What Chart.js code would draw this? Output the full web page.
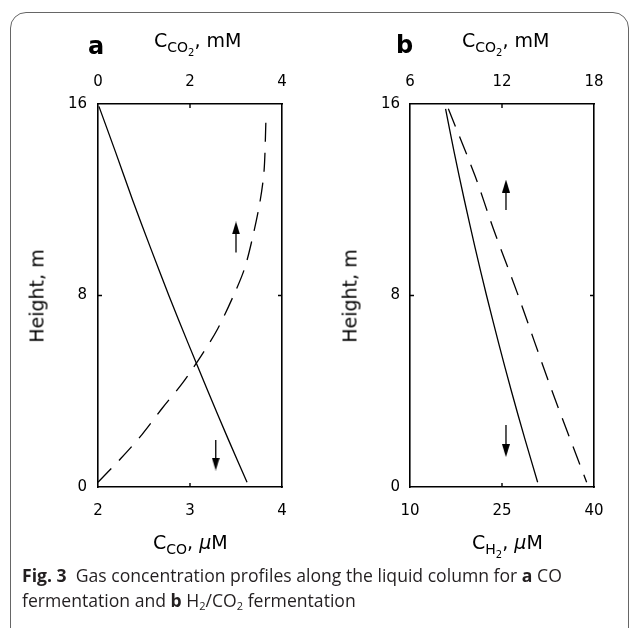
<!DOCTYPE html>
<html>
<head>
<meta charset="utf-8">
<script src="https://cdn.jsdelivr.net/npm/chart.js@4"></script>
<style>
  html, body { margin: 0; padding: 0; background: #fff; }
  body { width: 630px; height: 628px; position: relative; overflow: hidden; font-family: "DejaVu Sans", sans-serif; color: #000; }
  #frame { position: absolute; left: 10px; top: 12px; width: 619px; height: 640px; border: 1.4px solid #666; border-radius: 16px; box-sizing: border-box; }
  canvas { position: absolute; top: 0; }
  .t { position: absolute; font-size: 19px; line-height: 1; white-space: nowrap; }
  .s1 { font-size: 14px; position: relative; top: 5px; }
  .s2 { font-size: 10px; position: relative; top: 4px; }
  .panel { position: absolute; font-weight: bold; font-size: 24px; line-height: 1; }
  .rot { position: absolute; font-size: 19px; line-height: 1; white-space: nowrap; transform: translate(-50%, -50%) rotate(-90deg); }
  #caption { position: absolute; left: 22px; top: 563px; font-family: "Open Sans", sans-serif; font-size: 17.6px; line-height: 25px; color: #231f20; white-space: nowrap; }
  #caption sub { font-size: 11px; vertical-align: -3px; line-height: 0; }
</style>
</head>
<body>
<div id="frame"></div>
<canvas id="chartA" width="315" height="560" style="left:0"></canvas>
<canvas id="chartB" width="315" height="560" style="left:315px"></canvas>

<div class="panel" style="left:88px;top:34px">a</div>
<div class="panel" style="left:396px;top:33px">b</div>
<div class="t" style="left:154px;top:31px">C<span class="s1">CO<span class="s2">2</span></span>, mM</div>
<div class="t" style="left:462px;top:31px">C<span class="s1">CO<span class="s2">2</span></span>, mM</div>
<div class="t" style="left:153px;top:533px">C<span class="s1">CO</span>, <i>μ</i>M</div>
<div class="t" style="left:472px;top:533px">C<span class="s1">H<span class="s2">2</span></span>, <i>μ</i>M</div>
<div class="rot" style="left:37px;top:296px">Height, m</div>
<div class="rot" style="left:350px;top:296px">Height, m</div>

<div id="caption"><b>Fig. 3</b>&nbsp; Gas concentration profiles along the liquid column for <b>a</b> CO<br>fermentation and <b>b</b> H<sub>2</sub>/CO<sub>2</sub> fermentation</div>

<script>
// height axis (m), shared by both panels
const heightTicks = [0, 8, 16];

// panel a: CO fermentation
const coTicks = [2, 3, 4];            // C_CO, uM (bottom)
const co2TicksA = [0, 2, 4];          // C_CO2, mM (top)
const coHeight = [15.9, 14, 12, 10, 8, 6, 4, 2, 0.2];
const coConc   = [2.01, 2.19, 2.375, 2.57, 2.77, 2.98, 3.195, 3.415, 3.62];
const co2HeightA = [0.2, 1.2, 2.2, 3.3, 4.35, 5.5, 6.6, 8.1, 9.15, 10.5, 11.9, 13.2, 15.3];
const co2ConcA   = [0.0, 0.5, 0.96, 1.40, 1.84, 2.25, 2.60, 2.97, 3.19, 3.37, 3.52, 3.61, 3.65];
const arrowUpA   = [{ x: 3.0, y: 9.8 }, { x: 3.0, y: 10.82 }];    // on CO2 axis
const arrowDownA = [{ x: 3.28, y: 1.96 }, { x: 3.28, y: 0.96 }];  // on CO axis

// panel b: H2/CO2 fermentation
const h2Ticks = [10, 25, 40];         // C_H2, uM (bottom)
const co2TicksB = [6, 12, 18];        // C_CO2, mM (top)
const h2Height = [15.8, 14, 12, 10, 8, 6, 4, 2, 0.2];
const h2Conc   = [15.8, 17.19, 18.85, 20.61, 22.48, 24.46, 26.54, 28.74, 30.81];
const co2HeightB = [15.8, 13.0, 10.8, 8.1, 4.05, 0.2];
const co2ConcB   = [8.5, 10.24, 11.43, 13.0, 15.24, 17.52];
const arrowUpB   = [{ x: 12.26, y: 11.57 }, { x: 12.26, y: 12.57 }];
const arrowDownB = [{ x: 25.65, y: 2.59 }, { x: 25.65, y: 1.52 }];

const pts = (xs, ys) => xs.map((x, i) => ({ x, y: ys[i] }));

function arrowHead() {
  const c = document.createElement('canvas');
  c.width = 8; c.height = 13;
  const g = c.getContext('2d');
  g.fillStyle = '#000';
  g.beginPath(); g.moveTo(4, 0); g.lineTo(8, 13); g.lineTo(0, 13); g.closePath(); g.fill();
  return c;
}
const head = arrowHead();

// short inward ticks at the middle tick of each side
const innerTicks = {
  id: 'innerTicks',
  afterDraw(chart) {
    const { ctx, chartArea: a, scales } = chart;
    const len = 4;
    ctx.save();
    ctx.strokeStyle = '#000';
    ctx.lineWidth = 1.4;
    ctx.beginPath();
    const mid = s => s.ticks.filter(t => t.value > s.min && t.value < s.max);
    mid(scales.x).forEach(t => { const p = scales.x.getPixelForValue(t.value); ctx.moveTo(p, a.bottom); ctx.lineTo(p, a.bottom - len); });
    mid(scales.x2).forEach(t => { const p = scales.x2.getPixelForValue(t.value); ctx.moveTo(p, a.top); ctx.lineTo(p, a.top + len); });
    mid(scales.y).forEach(t => {
      const p = scales.y.getPixelForValue(t.value);
      ctx.moveTo(a.left, p); ctx.lineTo(a.left + len, p);
      ctx.moveTo(a.right, p); ctx.lineTo(a.right - len, p);
    });
    ctx.stroke();
    ctx.restore();
  }
};

const tickFont = { family: 'DejaVu Sans', size: 15 };
const border = { display: true, color: '#000', width: 1.6 };

function makePanel(id, cfg) {
  const line = (data, axis, dash) => ({
    data, xAxisID: axis, borderColor: '#000', borderWidth: 1.3,
    borderDash: dash ? [19, 11] : [], pointRadius: 0, tension: 0.3, fill: false
  });
  const arrow = (data, axis, rot) => ({
    data, xAxisID: axis, borderColor: '#000', backgroundColor: '#000', borderWidth: 1.3,
    pointStyle: head, pointRadius: [0, 4], pointRotation: rot, tension: 0
  });
  const ticksOf = vals => ({ ticks }) => { ticks.length = 0; vals.forEach(v => ticks.push({ value: v })); };
  return new Chart(document.getElementById(id), {
    type: 'line',
    data: {
      datasets: [
        line(cfg.solid, 'x', false),
        line(cfg.dashed, 'x2', true),
        arrow(cfg.up, cfg.upAxis, 0),
        arrow(cfg.down, cfg.downAxis, 180),
      ]
    },
    options: {
      responsive: false,
      animation: false,
      events: [],
      layout: { padding: 0 },
      plugins: { legend: { display: false }, tooltip: { enabled: false } },
      scales: {
        x: {
          type: 'linear', position: 'bottom', min: cfg.bottom[0], max: cfg.bottom[cfg.bottom.length - 1],
          afterBuildTicks: ticksOf(cfg.bottom),
          ticks: { font: tickFont, color: '#000', padding: 15, maxRotation: 0 },
          grid: { display: false, drawTicks: false }, border,
          afterFit: s => { s.height = 560 - 487; }
        },
        x2: {
          type: 'linear', position: 'top', min: cfg.top[0], max: cfg.top[cfg.top.length - 1],
          afterBuildTicks: ticksOf(cfg.top),
          ticks: { font: tickFont, color: '#000', padding: 13, maxRotation: 0 },
          grid: { display: false, drawTicks: false }, border,
          afterFit: s => { s.height = 104; }
        },
        y: {
          type: 'linear', position: 'left', min: 0, max: 16,
          afterBuildTicks: ticksOf(heightTicks),
          ticks: { font: tickFont, color: '#000', padding: cfg.yPad },
          grid: { display: false, drawTicks: false }, border,
          afterFit: s => { s.width = cfg.left; }
        },
        y2: {
          type: 'linear', position: 'right', min: 0, max: 16,
          ticks: { display: false },
          grid: { display: false, drawTicks: false }, border,
          afterFit: s => { s.width = cfg.right; }
        }
      }
    },
    plugins: [innerTicks]
  });
}

makePanel('chartA', {
  solid: pts(coConc, coHeight), dashed: pts(co2ConcA, co2HeightA),
  up: arrowUpA, upAxis: 'x2', down: arrowDownA, downAxis: 'x',
  bottom: coTicks, top: co2TicksA, left: 98, right: 315 - 282, yPad: 11
});
makePanel('chartB', {
  solid: pts(h2Conc, h2Height), dashed: pts(co2ConcB, co2HeightB),
  up: arrowUpB, upAxis: 'x2', down: arrowDownB, downAxis: 'x',
  bottom: h2Ticks, top: co2TicksB, left: 410 - 315, right: 315 - (594 - 315), yPad: 10
});
</script>
</body>
</html>
